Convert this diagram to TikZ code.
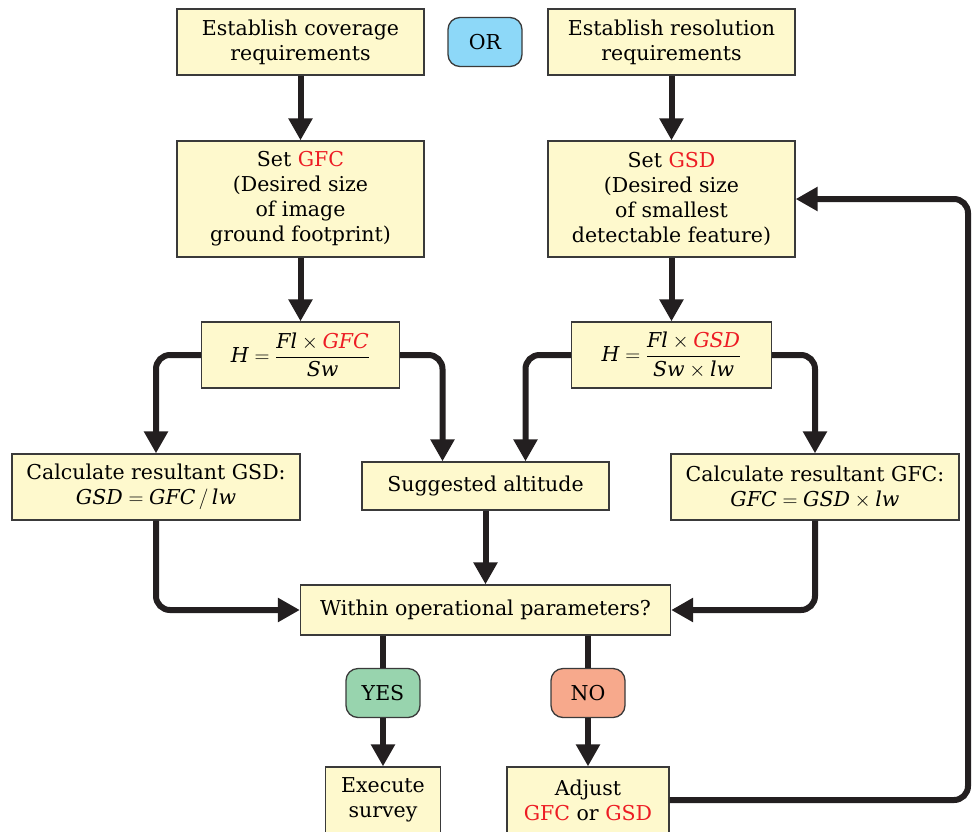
\documentclass[tikz,border=0pt]{standalone}
\usepackage{amsmath}
\usepackage{fontspec}
\setmainfont{DejaVu Serif}
\usetikzlibrary{arrows.meta}

\definecolor{boxfill}{HTML}{FEF9CD}
\definecolor{edgegray}{HTML}{3A3A3A}
\definecolor{linegray}{HTML}{231F20}
\definecolor{orblue}{HTML}{8DD8F8}
\definecolor{yesgreen}{HTML}{98D4AE}
\definecolor{nosalmon}{HTML}{F7A98C}
\definecolor{redtext}{HTML}{ED1C24}
\newcommand{\redtxt}[1]{\textcolor{redtext}{#1}}

\begin{document}
\begin{tikzpicture}[x=1pt, y=-1pt,
    box/.style={draw=edgegray, line width=1.3pt, fill=boxfill, align=center,
        inner sep=0pt, font=\fontsize{20.5}{25}\selectfont},
    pill/.style={box, rounded corners=12pt, minimum width=74pt, minimum height=49pt},
    conn/.style={line width=6pt, draw=linegray, rounded corners=14pt,
        -{Triangle[length=22pt,width=23pt]}},
    ]
    \useasboundingbox (0,0) rectangle (972,831);
    \clip (0,0) rectangle (972,831);

    \node[box, minimum width=247pt, minimum height=66pt] (cover) at (300.5,42) {Establish coverage\\requirements};
    \node[pill, fill=orblue] (or) at (485,42) {OR};
    \node[box, minimum width=247pt, minimum height=66pt] (resol) at (671.5,42) {Establish resolution\\requirements};
    \node[box, minimum width=247pt, minimum height=116pt] (setgfc) at (300.5,199) {Set \redtxt{GFC}\\(Desired size\\of image\\ground footprint)};
    \node[box, minimum width=247pt, minimum height=116pt] (setgsd) at (671.5,199) {Set \redtxt{GSD}\\(Desired size\\of smallest\\detectable feature)};
    \node[box, minimum width=198pt, minimum height=66pt] (hgfc) at (300.5,355)
        {$\textit{H} = \dfrac{\textit{Fl} \times \redtxt{\textit{GFC}}}{\textit{Sw}}$};
    \node[box, minimum width=200pt, minimum height=66pt] (hgsd) at (671.5,355)
        {$\textit{H} = \dfrac{\textit{Fl} \times \redtxt{\textit{GSD}}}{\textit{Sw} \times \textit{lw}}$};
    \node[box, minimum width=288pt, minimum height=66pt] (calcgsd) at (156,487)
        {Calculate resultant GSD:\\$\textit{GSD} = \textit{GFC}\,/\,\textit{lw}$};
    \node[box, minimum width=247pt, minimum height=48pt] (alt) at (485.5,486) {Suggested altitude};
    \node[box, minimum width=288pt, minimum height=66pt] (calcgfc) at (815,487)
        {Calculate resultant GFC:\\$\textit{GFC} = \textit{GSD} \times \textit{lw}$};
    \node[box, minimum width=370pt, minimum height=50pt] (within) at (485.5,610) {Within operational parameters?};
    \node[pill, fill=yesgreen] (yes) at (383,693) {YES};
    \node[pill, fill=nosalmon] (no) at (588,693) {NO};
    \node[box, minimum width=115pt, minimum height=66pt] (exec) at (383,800) {Execute\\survey};
    \node[box, minimum width=162pt, minimum height=66pt] (adjust) at (588,800) {Adjust\\\redtxt{GFC} or \redtxt{GSD}};
    \coordinate (back) at (968,199);

    \draw[conn] (cover.south) -- (setgfc.north);
    \draw[conn] (resol.south) -- (setgsd.north);
    \draw[conn] (setgfc.south) -- (hgfc.north);
    \draw[conn] (setgsd.south) -- (hgsd.north);
    \draw[conn] (hgfc.west) -| (calcgsd.north);
    \draw[conn] (hgfc.east) -| ([xshift=-43pt]alt.north);
    \draw[conn] (hgsd.west) -| ([xshift=40pt]alt.north);
    \draw[conn] (hgsd.east) -| (calcgfc.north);
    \draw[conn] (alt.south) -- (within.north);
    \draw[conn] (calcgsd.south) |- (within.west);
    \draw[conn] (calcgfc.south) |- (within.east);
    \draw[conn, -] (within.south -| yes.north) -- (yes.north);
    \draw[conn] (yes.south) -- (exec.north);
    \draw[conn, -] (within.south -| no.north) -- (no.north);
    \draw[conn] (no.south) -- (adjust.north);
    \draw[conn] (adjust.east) -| (back) -- (setgsd.east);
\end{tikzpicture}
\end{document}
